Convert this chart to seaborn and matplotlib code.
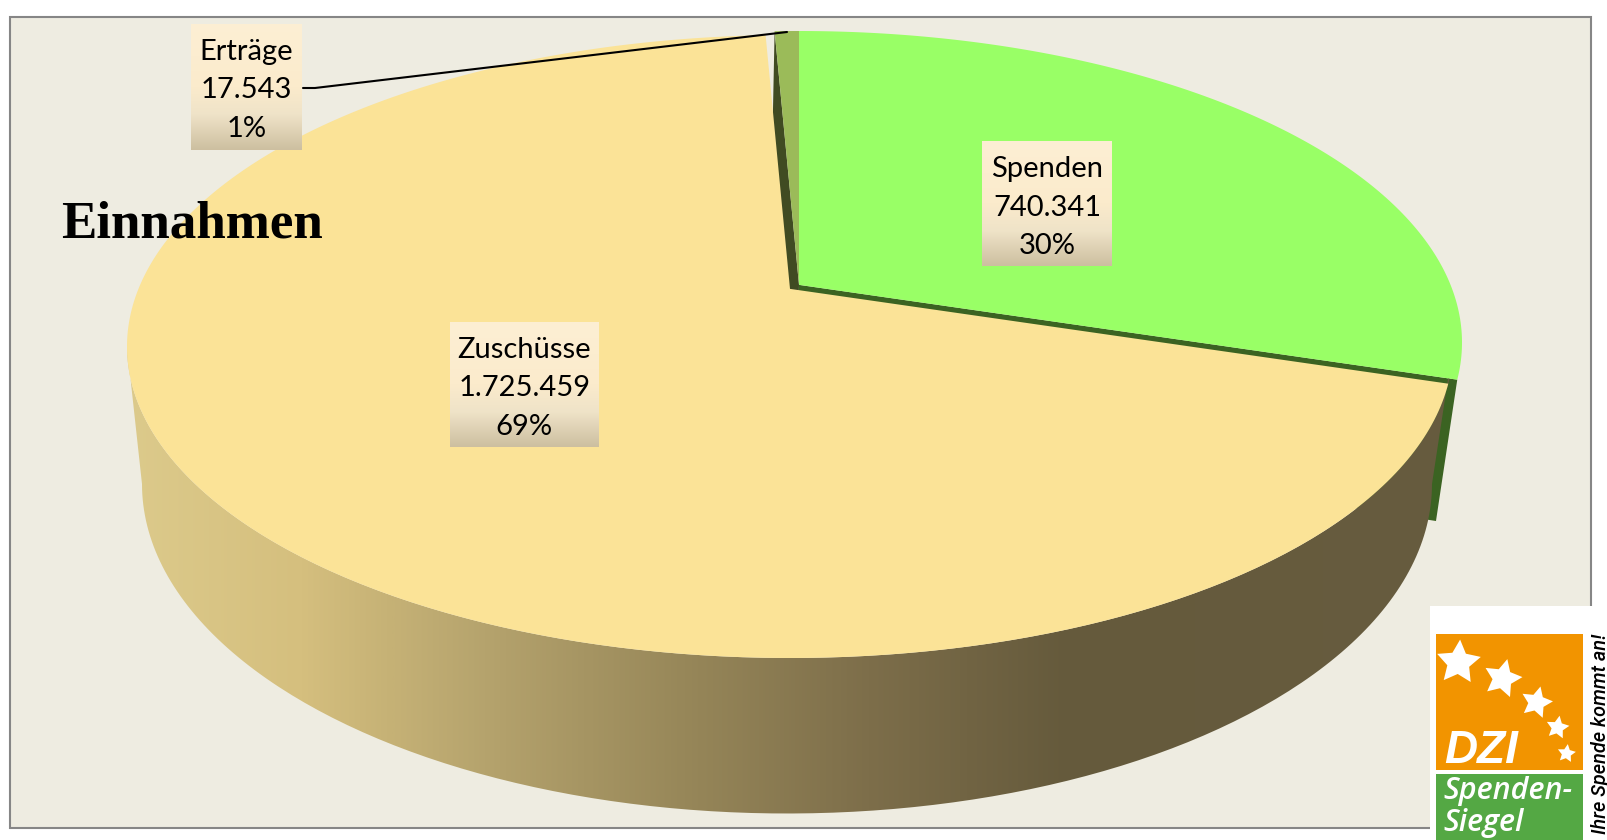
import numpy as np
import matplotlib
matplotlib.use("Agg")
import matplotlib.pyplot as plt
import seaborn as sns
from matplotlib.colors import LinearSegmentedColormap
from matplotlib.path import Path
from matplotlib.patches import PathPatch, Rectangle
from matplotlib.transforms import Affine2D, Transform

# Daten
kategorien = ["Spenden", "Zuschüsse", "Erträge"]
betraege = [740341, 1725459, 17543]
betrag_texte = ["740.341", "1.725.459", "17.543"]
prozent_texte = ["30%", "69%", "1%"]
farben = ["#99FF66", "#FBE397", "#9BBB59"]

B, H = 1607, 840


# Einheitskreis -> perspektivische Ellipse in Pixelkoordinaten
class Kipp(Transform):
    input_dims = output_dims = 2

    def __init__(self, k, cx, cy, rx, ry):
        super().__init__()
        self.k, self.cx, self.cy, self.rx, self.ry = k, cx, cy, rx, ry

    def transform_non_affine(self, xy):
        xy = np.asarray(xy, float)
        x, y = xy[:, 0], xy[:, 1]
        n = 1 + self.k * y
        xn = x * np.sqrt(1 - self.k ** 2) / n
        yn = (y + self.k) / n
        return np.column_stack([self.cx + self.rx * xn, self.cy - self.ry * yn])

    def transform_path_non_affine(self, path):
        pkt = [seg(np.linspace(0, 1, 40)) for seg, code in path.iter_bezier()]
        return Path(self.transform_non_affine(np.vstack(pkt)))


oben = Kipp(0.185, 790, 346.5, 663, 311.5)
unten = Kipp(0.18, 787, 484, 645, 329.5)
versatz = np.array([9, -4])


def rand(kipp, winkel):
    t = np.radians(winkel)
    return kipp.transform_non_affine(np.array([[np.cos(t), np.sin(t)]]))[0] + versatz


def mitte(kipp):
    return kipp.transform_non_affine(np.array([[0.0, 0.0]]))[0] + versatz


sns.set_theme(style="white")
plt.rcParams["font.family"] = ["Lato", "DejaVu Sans"]

fig = plt.figure(figsize=(B / 100, H / 100), dpi=100, facecolor="white")
ax = fig.add_axes([0, 0, 1, 1])

wedges, _ = ax.pie(betraege, colors=sns.color_palette(farben), startangle=90,
                   counterclock=False, labeldistance=None, wedgeprops=dict(linewidth=0))
ax.set_aspect("auto")

# Rahmen
ax.add_patch(Rectangle((9.5, 16.5), 1581, 811, facecolor="#EEECE1", edgecolor="#868686", lw=1.5, zorder=0))

w_sp, w_zu, w_er = wedges

# Schnittflächen
ax.fill(*zip(mitte(oben), rand(oben, w_sp.theta1), rand(unten, w_sp.theta1), mitte(unten)),
        color="#3B6322", lw=0, zorder=1)
ax.fill(*zip(mitte(oben), rand(oben, w_er.theta2), rand(unten, w_er.theta2), mitte(unten)),
        color="#404B22", lw=0, zorder=1)

# Seitenwand mit Verlauf
phi = np.radians(np.linspace(180, 360, 200))
umriss = Path(np.column_stack([
    np.r_[unten.cx + unten.rx * np.cos(phi), (oben.cx + oben.rx * np.cos(phi))[::-1]],
    np.r_[unten.cy - unten.ry * np.sin(phi), (oben.cy - oben.ry * np.sin(phi))[::-1]],
]))
seite_cmap = LinearSegmentedColormap.from_list("seite", [
    (0.0, "#DCCA8B"), (0.13, "#D5BF7E"), (0.27, "#B5A36D"), (0.42, "#978759"),
    (0.56, "#7D6E4A"), (0.71, "#655A3C"), (1.0, "#675C3F")])
verlauf = np.linspace(0, 1, 512).reshape(1, -1)
bild = ax.imshow(verlauf, cmap=seite_cmap, extent=(127, 1453, 830, 300), aspect="auto", zorder=2,
                 interpolation="bilinear")
bild.set_clip_path(PathPatch(umriss, transform=ax.transData))

# Deckfläche
w_zu.set_transform(oben + ax.transData)
w_zu.set_zorder(3)
for w in (w_sp, w_er):
    w.set_transform(oben + Affine2D().translate(*versatz) + ax.transData)
    w.set_zorder(4)

# Beschriftungen mit Verlaufsfeld
box_cmap = LinearSegmentedColormap.from_list("box", [
    (0.0, "#FDEFD4"), (0.5, "#FBEBCC"), (0.72, "#EFE3C8"), (1.0, "#CDBFA0")])
boxen = [(982, 1112, 141, 266), (450, 598.5, 322, 447), (191, 302, 24, 150)]
for name, betrag, proz, (x0, x1, y0, y1) in zip(kategorien, betrag_texte, prozent_texte, boxen):
    ax.imshow(np.linspace(0, 1, 128).reshape(-1, 1), cmap=box_cmap, extent=(x0, x1, y1, y0),
              aspect="auto", zorder=5)
    xm = (x0 + x1) / 2
    for i, t in enumerate([name, betrag, proz]):
        ax.text(xm, y0 + 28 + 38.5 * i, t, ha="center", va="center", fontsize=21, color="black", zorder=6)

# Führungslinie
ax.plot([303, 315, 787], [88, 88, 32], color="black", lw=1.5, zorder=7)

ax.text(61, 224, "Einnahmen", family="Liberation Serif", fontweight="bold", fontsize=38.2, ha="left", va="center",
        color="black", zorder=7)

# Siegel
ax.add_patch(Rectangle((1430, 606), 177, 234, facecolor="white", lw=0, zorder=8))
ax.add_patch(Rectangle((1436, 634), 147, 136, facecolor="#F29400", lw=0, zorder=9))
ax.add_patch(Rectangle((1436, 774), 147, 66, facecolor="#54A844", lw=0, zorder=9))
for (sx, sy, r, dreh) in [(1458, 662, 23, -4), (1502, 678, 20, -14), (1536, 702, 16.5, -14),
                          (1557, 727, 12, -10), (1566, 753, 9.5, -8)]:
    ax.scatter([sx], [sy], marker=(5, 1, dreh), s=(2 * r * 0.72) ** 2, color="white", lw=0, zorder=10)
ax.text(1444, 763, "DZI", family="Liberation Sans", fontweight="bold", style="italic", fontsize=33, color="white",
        ha="left", va="baseline", zorder=10)
ax.text(1443, 799, "Spenden-", family="Open Sans", style="italic", fontweight="semibold", fontsize=22, color="white",
        ha="left", va="baseline", zorder=10)
ax.text(1443, 831, "Siegel", family="Open Sans", style="italic", fontweight="semibold", fontsize=22, color="white",
        ha="left", va="baseline", zorder=10)
ax.text(1600, 634, "Ihre Spende kommt an!", family="Roboto", style="italic", fontweight="medium", fontsize=14.3,
        color="black", rotation=90, ha="center", va="top", zorder=10)

ax.set_xlim(0, B)
ax.set_ylim(H, 0)
ax.axis("off")
fig.savefig("out.png", dpi=100, facecolor="white")
